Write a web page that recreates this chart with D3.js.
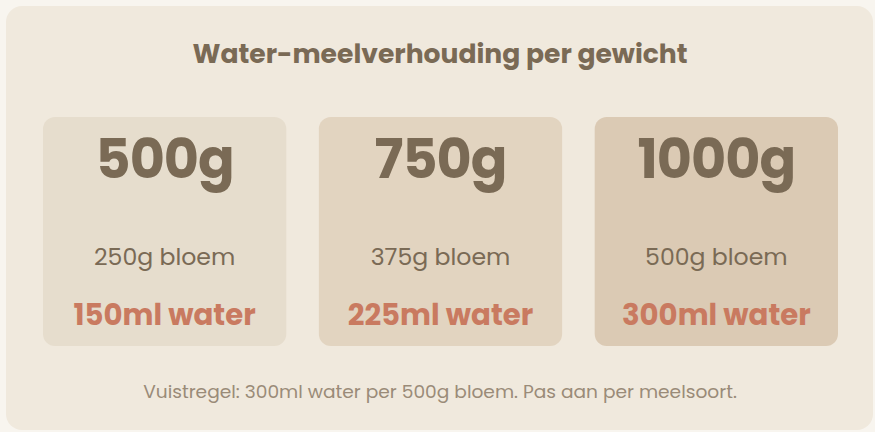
<!DOCTYPE html>
<html>
<head>
<meta charset="utf-8">
<script src="https://cdn.jsdelivr.net/npm/d3@7"></script>
<style>
  html, body { margin: 0; padding: 0; background: #f8f5ef; }
  svg { display: block; font-family: "Poppins", "Open Sans", sans-serif; }
</style>
</head>
<body>
<div id="chart"></div>
<script>
// deeg-gewichten en de bijbehorende hoeveelheden
const doughWeights = [500, 750, 1000]
const flourGrams = [250, 375, 500]
const waterMl = [150, 225, 300]
const boxColors = ["#e6ddcd", "#e2d4c0", "#dbcab4"]

const title = "Water-meelverhouding per gewicht"
const footnote = "Vuistregel: 300ml water per 500g bloem. Pas aan per meelsoort."

const width = 875, height = 432

const svg = d3.select('#chart')
    .append('svg')
    .attr('width', width)
    .attr('height', height)

// achtergrondkaart
svg.append('rect')
    .attr('x', 6).attr('y', 6)
    .attr('width', 867).attr('height', 424)
    .attr('rx', 16)
    .style('fill', '#f0e9dd')

svg.append('text')
    .attr('x', 440).attr('y', 63)
    .attr('text-anchor', 'middle')
    .style('font-size', '26.6px')
    .style('font-weight', 700)
    .style('fill', '#7a6a55')
    .text(title)

const x = d3.scaleBand()
    .domain(doughWeights)
    .range([43, 838])
    .paddingInner(0.118)

const color = d3.scaleOrdinal()
    .domain(doughWeights)
    .range(boxColors)

const data = doughWeights.map((w, i) => ({ weight: w, flour: flourGrams[i], water: waterMl[i] }))

const boxTop = 117, boxHeight = 229

const g = svg.selectAll('.box')
    .data(data)
    .enter()
    .append('g')
    .attr('class', 'box')
    .attr('transform', d => `translate(${x(d.weight)}, ${boxTop})`)

g.append('rect')
    .attr('width', x.bandwidth())
    .attr('height', boxHeight)
    .attr('rx', 12)
    .style('fill', d => color(d.weight))

g.append('text')
    .attr('x', x.bandwidth() / 2)
    .attr('y', 61)
    .attr('text-anchor', 'middle')
    .style('font-size', '54px')
    .style('font-weight', 700)
    .style('fill', '#7a6a55')
    .style('letter-spacing', '-1px')
    .text(d => d.weight + 'g')

g.append('text')
    .attr('x', x.bandwidth() / 2)
    .attr('y', 148)
    .attr('text-anchor', 'middle')
    .style('font-size', '23.6px')
    .style('fill', '#7a6a55')
    .text(d => d.flour + 'g bloem')

g.append('text')
    .attr('x', x.bandwidth() / 2)
    .attr('y', 208)
    .attr('text-anchor', 'middle')
    .style('font-size', '29.2px')
    .style('font-weight', 700)
    .style('fill', '#c97a60')
    .text(d => d.water + 'ml water')

svg.append('text')
    .attr('x', 440).attr('y', 398)
    .attr('text-anchor', 'middle')
    .style('font-size', '18.6px')
    .style('fill', '#9a8b78')
    .text(footnote)
</script>
</body>
</html>
